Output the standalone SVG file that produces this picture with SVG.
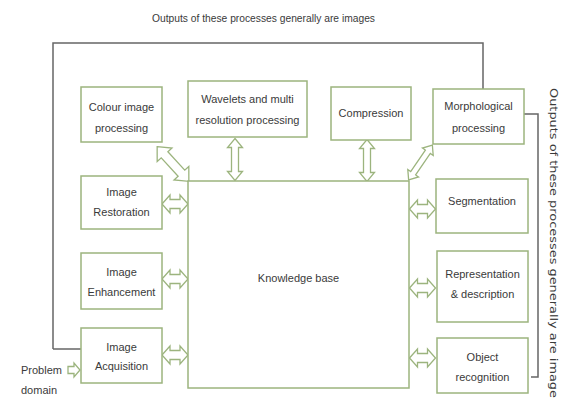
<svg xmlns="http://www.w3.org/2000/svg" width="562" height="401" viewBox="0 0 562 401">
<style>
.box{fill:#fff;stroke:#9cb47e;stroke-width:1.5}
.arr{fill:#fff;stroke:#9cb47e;stroke-width:1.3;stroke-linejoin:miter}
.t{font-family:"Liberation Sans",Arial,sans-serif;font-size:11px;fill:#3a3a3a;text-anchor:middle}
.tl{font-family:"Liberation Sans",Arial,sans-serif;font-size:11px;fill:#3a3a3a}
.line{fill:none;stroke:#666;stroke-width:1.5}
.rt{font-family:"DejaVu Sans",sans-serif;font-size:10px;fill:#3a3a3a}
</style>
<defs>
<path id="hA" d="M-13,0 L-5,-9 L-5,-4.5 L5,-4.5 L5,-9 L13,0 L5,9 L5,4.5 L-5,4.5 L-5,9 Z"/>
<path id="vA" d="M0,-21 L7.5,-12 L3.5,-12 L3.5,12 L7.5,12 L0,21 L-7.5,12 L-3.5,12 L-3.5,-12 L-7.5,-12 Z"/>
<path id="dA1" d="M-23.5,0 L-12.5,-10 L-12.5,-4.5 L12.5,-4.5 L12.5,-10 L23.5,0 L12.5,10 L12.5,4.5 L-12.5,4.5 L-12.5,10 Z"/>
<path id="dA2" d="M-21,0 L-13,-6.5 L-13,-3 L13,-3 L13,-6.5 L21,0 L13,6.5 L13,3 L-13,3 L-13,6.5 Z"/>
</defs>

<text class="tl" x="152" y="22" textLength="223" lengthAdjust="spacingAndGlyphs">Outputs of these processes generally are images</text>

<g id="connectors">
<polyline class="line" points="53,349 53,43 483,43 483,89"/>
<line class="line" x1="53" y1="349" x2="81" y2="349"/>
<polyline class="line" points="524,114 538,114 538,377 531,377"/>
<use href="#dA1" class="arr" transform="translate(173,164) rotate(47.6)"/>
<use href="#dA2" class="arr" transform="translate(420.5,162.5) rotate(124.4)"/>
<use href="#vA" class="arr" transform="translate(235,159.5)"/>
<use href="#vA" class="arr" transform="translate(367,160.5)"/>
<use href="#hA" class="arr" transform="translate(175,204)"/>
<use href="#hA" class="arr" transform="translate(175,279)"/>
<use href="#hA" class="arr" transform="translate(175,355)"/>
<use href="#hA" class="arr" transform="translate(422.5,209)"/>
<use href="#hA" class="arr" transform="translate(422.5,288)"/>
<use href="#hA" class="arr" transform="translate(422.5,358)"/>
<path class="arr" d="M68,366.5 L74,366.5 L74,363 L80,370 L74,377 L74,373.5 L68,373.5 Z"/>
</g>

<g id="colour">
<rect class="box" x="81" y="87" width="81" height="55"/>
<text class="t" x="121.5" y="111">Colour image</text>
<text class="t" x="121.5" y="132">processing</text>
</g>
<g id="wavelets">
<rect class="box" x="188" y="81" width="119" height="56"/>
<text class="t" x="247.5" y="103">Wavelets and multi</text>
<text class="t" x="247.5" y="124">resolution processing</text>
</g>
<g id="compression">
<rect class="box" x="331" y="87" width="80" height="53"/>
<text class="t" x="371" y="117">Compression</text>
</g>
<g id="morph">
<rect class="box" x="433" y="89" width="91" height="55"/>
<text class="t" x="478.5" y="110">Morphological</text>
<text class="t" x="478.5" y="132">processing</text>
</g>
<g id="restoration">
<rect class="box" x="81" y="176" width="81" height="53"/>
<text class="t" x="121.5" y="196">Image</text>
<text class="t" x="121.5" y="216">Restoration</text>
</g>
<g id="enhancement">
<rect class="box" x="81" y="253" width="81" height="56"/>
<text class="t" x="121.5" y="276">Image</text>
<text class="t" x="121.5" y="296">Enhancement</text>
</g>
<g id="acquisition">
<rect class="box" x="81" y="328" width="81" height="55"/>
<text class="t" x="121.5" y="351">Image</text>
<text class="t" x="121.5" y="370">Acquisition</text>
</g>
<g id="knowledge">
<rect class="box" x="188" y="181" width="221" height="207"/>
<text class="t" x="298.5" y="282">Knowledge base</text>
</g>
<g id="segmentation">
<rect class="box" x="436" y="179" width="92" height="54"/>
<text class="t" x="482" y="205">Segmentation</text>
</g>
<g id="representation">
<rect class="box" x="437" y="251" width="91" height="71"/>
<text class="t" x="482.5" y="278">Representation</text>
<text class="t" x="482.5" y="298">&amp; description</text>
</g>
<g id="object">
<rect class="box" x="437" y="338" width="91" height="55"/>
<text class="t" x="482.5" y="361">Object</text>
<text class="t" x="482.5" y="381">recognition</text>
</g>
<g id="problem">
<text class="tl" x="21" y="374">Problem</text>
<text class="tl" x="21" y="394">domain</text>
</g>

<text class="rt" transform="translate(550,88) rotate(90)" textLength="310" lengthAdjust="spacingAndGlyphs">Outputs of these processes generally are image</text>
</svg>
